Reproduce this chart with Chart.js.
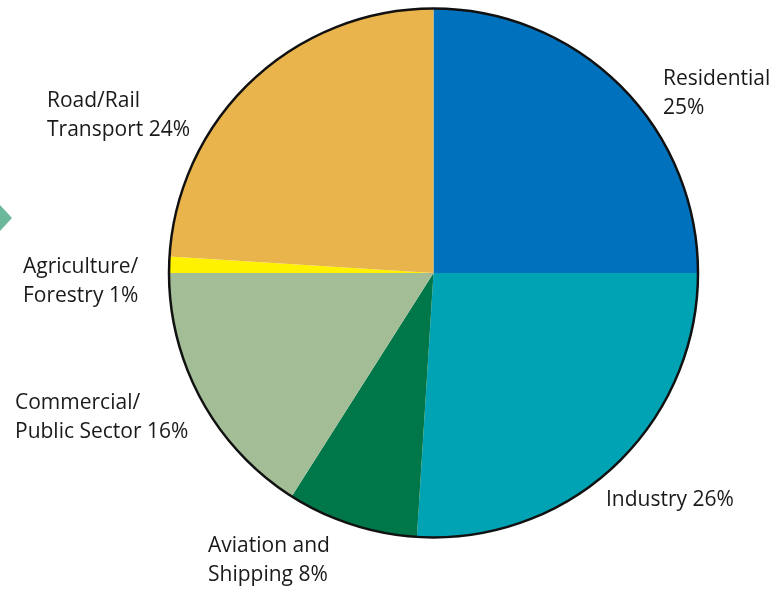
<!DOCTYPE html>
<html>
<head>
<meta charset="utf-8">
<script src="https://cdn.jsdelivr.net/npm/chart.js@4"></script>
<style>
    html, body { margin: 0; padding: 0; background: #ffffff; }
    .wrap { position: relative; width: 776px; height: 592px; }
    .arrow {
        position: absolute; left: 0; top: 205px; width: 12px; height: 26px;
        background: #6cb89a; clip-path: polygon(0 0, 100% 50%, 0 100%);
    }
</style>
</head>
<body>
<div class="wrap">
    <canvas id="pieChart" width="776" height="592"></canvas>
    <div class="arrow"></div>
</div>
<script>
// Sector shares (%), clockwise from 12 o'clock
const sectors = ['Residential', 'Industry', 'Aviation and Shipping', 'Commercial/Public Sector', 'Agriculture/Forestry', 'Road/Rail Transport'];
const shares = [25, 26, 8, 16, 1, 24];
const sliceColors = ['#0071bc', '#00a3b4', '#007748', '#a3be96', '#fff200', '#e9b44c'];

// label text lines, one entry per sector
const labelLines = [
    ['Residential', '25%'],
    ['Industry 26%'],
    ['Aviation and', 'Shipping 8%'],
    ['Commercial/', 'Public Sector 16%'],
    ['Agriculture/', 'Forestry 1%'],
    ['Road/Rail', 'Transport 24%']
];
// where each label block sits (left x, middle y of first line)
const labelPos = [
    { x: 663, y: 79 },
    { x: 606, y: 500 },
    { x: 208, y: 546 },
    { x: 15, y: 403 },
    { x: 23, y: 267 },
    { x: 47, y: 101 }
];
const LINE_H = 29;

const pieDecor = {
    id: 'pieDecor',
    afterDatasetsDraw(chart) {
        const ctx = chart.ctx;
        const arc = chart.getDatasetMeta(0).data[0];
        // black outline round the whole pie
        ctx.save();
        ctx.beginPath();
        ctx.arc(arc.x, arc.y, arc.outerRadius, 0, Math.PI * 2);
        ctx.lineWidth = 2.5;
        ctx.strokeStyle = '#111111';
        ctx.stroke();

        // labels
        ctx.fillStyle = '#1a1a1a';
        ctx.font = '21px "Open Sans", sans-serif';
        ctx.textAlign = 'left';
        ctx.textBaseline = 'middle';
        labelLines.forEach((lines, i) => {
            lines.forEach((line, j) => {
                ctx.fillText(line, labelPos[i].x, labelPos[i].y + j * LINE_H);
            });
        });
        ctx.restore();
    }
};

new Chart(document.getElementById('pieChart'), {
    type: 'pie',
    data: {
        labels: sectors,
        datasets: [{
            data: shares,
            backgroundColor: sliceColors,
            borderWidth: 0
        }]
    },
    options: {
        responsive: false,
        animation: false,
        layout: { padding: { left: 169, right: 78, top: 8.5, bottom: 54.5 } },
        plugins: {
            legend: { display: false },
            tooltip: { enabled: false }
        }
    },
    plugins: [pieDecor]
});
</script>
</body>
</html>
